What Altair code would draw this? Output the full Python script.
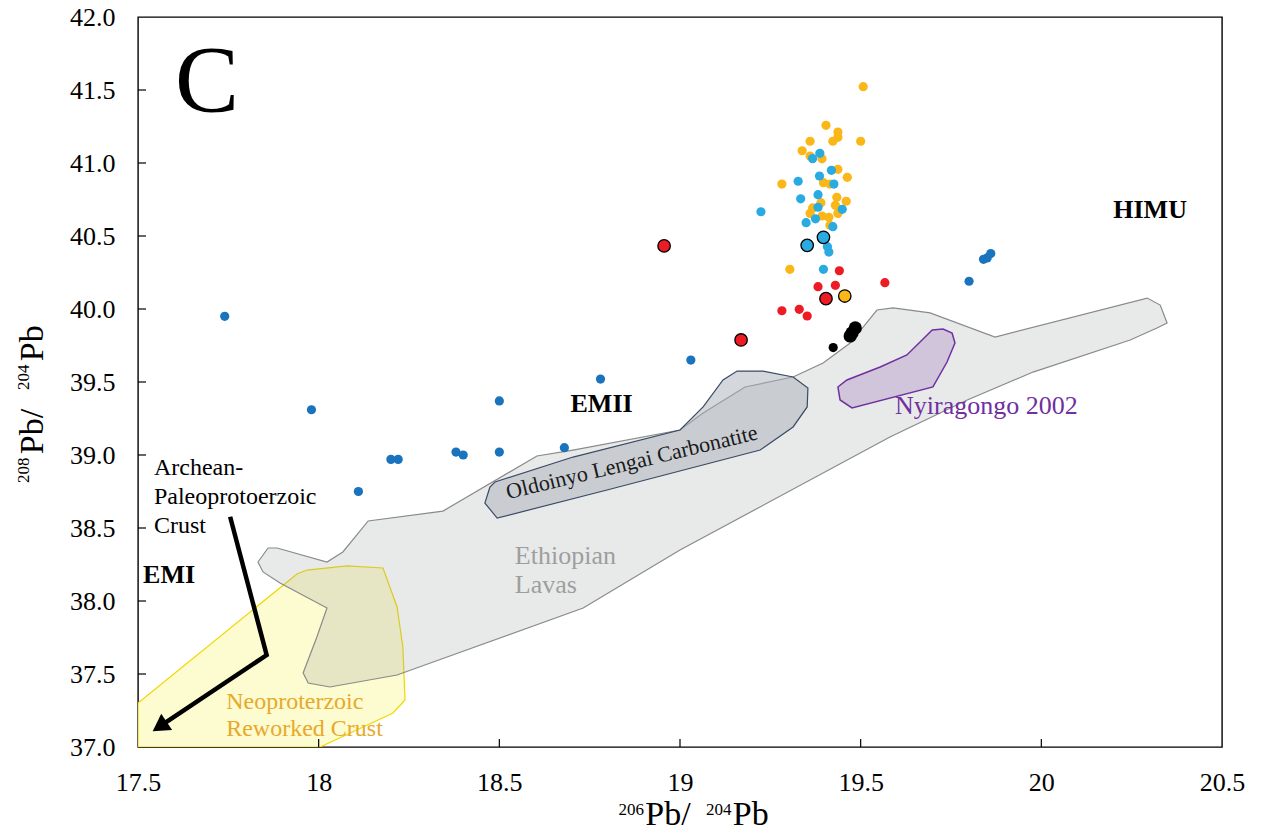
import altair as alt
import pandas as pd

FONT = "Liberation Serif, Times New Roman, serif"
W, H = 1084, 730

# ---------------- data ----------------
dark_blue_x = [17.74, 17.98, 18.11, 18.20, 18.22, 18.38, 18.40, 18.50, 18.50, 18.68, 18.78, 19.03, 19.80, 19.84, 19.85, 19.86]
dark_blue_y = [39.95, 39.31, 38.75, 38.97, 38.97, 39.02, 39.00, 39.02, 39.37, 39.05, 39.52, 39.65, 40.19, 40.34, 40.35, 40.38]

yellow_x = [19.507, 19.404, 19.437, 19.437, 19.423, 19.360, 19.500, 19.338, 19.360, 19.393, 19.437, 19.463, 19.282,
            19.397, 19.415, 19.434, 19.460, 19.390, 19.430, 19.367, 19.360, 19.437, 19.393, 19.412, 19.415, 19.304]
yellow_y = [41.523, 41.258, 41.212, 41.176, 41.149, 41.149, 41.149, 41.084, 41.048, 41.029, 40.957, 40.902, 40.856,
            40.865, 40.856, 40.765, 40.738, 40.728, 40.710, 40.692, 40.655, 40.655, 40.637, 40.628, 40.573, 40.272]

cyan_x = [19.387, 19.367, 19.419, 19.386, 19.327, 19.426, 19.382, 19.334, 19.382, 19.449, 19.224, 19.375, 19.349,
          19.423, 19.408, 19.412, 19.397]
cyan_y = [41.066, 41.030, 40.950, 40.911, 40.875, 40.856, 40.783, 40.755, 40.697, 40.683, 40.666, 40.618, 40.591,
          40.564, 40.427, 40.390, 40.272]

red_x = [19.441, 19.382, 19.430, 19.567, 19.282, 19.330, 19.352]
red_y = [40.262, 40.153, 40.162, 40.180, 39.988, 39.998, 39.952]

black_x = [19.424]
black_y = [39.736]
black_big_x = [19.485, 19.476, 19.471]
black_big_y = [39.870, 39.836, 39.815]

# larger outlined symbols
big_cyan_x = [19.352, 19.397]
big_cyan_y = [40.436, 40.491]
big_red_x = [19.404, 19.169, 18.956]
big_red_y = [40.071, 39.788, 40.432]
big_yellow_x = [19.456]
big_yellow_y = [40.089]

# field outlines
ethiopian_x = [17.832, 17.860, 17.885, 18.023, 18.067, 18.137, 18.344, 18.604, 18.704, 19.000, 19.064, 19.180,
               19.313, 19.396, 19.471, 19.545, 19.590, 19.692, 19.872, 20.293, 20.329, 20.348, 20.320, 20.246,
               19.977, 19.795, 19.581, 19.000, 18.732, 18.217, 18.031, 17.971, 17.957, 17.995, 18.023, 17.893, 17.846]
ethiopian_y = [38.267, 38.363, 38.363, 38.267, 38.336, 38.548, 38.616, 38.993, 39.034, 39.171, 39.288, 39.466,
               39.534, 39.630, 39.767, 39.993, 40.007, 39.973, 39.808, 40.075, 40.027, 39.904, 39.870, 39.788,
               39.568, 39.377, 39.123, 38.349, 37.952, 37.493, 37.411, 37.438, 37.507, 37.753, 37.952, 38.123, 38.199]

neo_x = [17.500, 17.940, 17.968, 18.078, 18.178, 18.217, 18.233, 18.239, 18.206, 18.004, 17.500]
neo_y = [37.301, 38.185, 38.212, 38.240, 38.226, 37.959, 37.685, 37.322, 37.233, 37.000, 37.000]

oldoinyo_x = [18.474, 18.460, 18.494, 18.798, 19.222, 19.313, 19.352, 19.354, 19.313, 19.230, 19.158, 19.119,
              19.064, 19.000, 18.704, 18.488]
oldoinyo_y = [38.781, 38.671, 38.568, 38.760, 39.034, 39.192, 39.329, 39.459, 39.534, 39.575, 39.575, 39.514,
              39.329, 39.171, 38.986, 38.815]

nyira_x = [19.437, 19.443, 19.476, 19.700, 19.739, 19.761, 19.753, 19.728, 19.698, 19.628, 19.554, 19.462]
nyira_y = [39.466, 39.377, 39.322, 39.466, 39.637, 39.767, 39.836, 39.863, 39.856, 39.685, 39.603, 39.514]

# arrow (Archean-Paleoproterozoic crust)
arrow_x = [17.755, 17.856, 17.578]
arrow_y = [38.577, 37.630, 37.171]
arrow_head_x = [17.560]
arrow_head_y = [37.140]

x_tick_values = [17.5, 18, 18.5, 19, 19.5, 20, 20.5]
y_tick_values = [37.0, 37.5, 38.0, 38.5, 39.0, 39.5, 40.0, 40.5, 41.0, 41.5, 42.0]

# axis titles built from pieces (mass numbers as superscripts)
x_title_parts = ["206", "Pb/", "204", "Pb"]
x_title_x = [18.830, 18.904, 19.072, 19.146]
x_title_y = [36.534, 36.466, 36.534, 36.466]
y_title_parts = ["208", "Pb/", "204", "Pb"]
y_title_x = [17.198, 17.237, 17.198, 17.237]
y_title_y = [38.808, 39.005, 39.445, 39.642]

# ---------------- scales / axes ----------------
xs = alt.Scale(domain=[17.5, 20.5], nice=False, zero=False)
ys = alt.Scale(domain=[37.0, 42.0], nice=False, zero=False)

x_axis = alt.Axis(title=None, values=x_tick_values, format="~f", ticks=False, tickSize=0,
                  domain=False, grid=False, labelFont=FONT, labelFontSize=26, labelColor="black",
                  labelPadding=22, labelFlush=False, labelOverlap=False)
y_axis = alt.Axis(title=None, values=y_tick_values, format=".1f", ticks=False, tickSize=0,
                  domain=False, grid=False, labelFont=FONT, labelFontSize=26, labelColor="black",
                  labelPadding=23, labelFlush=False, labelOverlap=False)


def enc_xy(chart):
    return chart.encode(x=alt.X("x:Q", scale=xs, axis=x_axis), y=alt.Y("y:Q", scale=ys, axis=y_axis))


def polygon(xv, yv, fill, fill_opacity, stroke, sw):
    df = pd.DataFrame({"x": xv, "y": yv, "i": list(range(len(xv)))})
    return enc_xy(alt.Chart(df).mark_line(interpolate="linear-closed", fill=fill, fillOpacity=fill_opacity,
                                          stroke=stroke, strokeWidth=sw, clip=True)).encode(order="i:Q")


def points(xv, yv, color, size, outline=False):
    df = pd.DataFrame({"x": xv, "y": yv})
    if outline:
        m = alt.Chart(df).mark_circle(size=size, color=color, opacity=1, stroke="black", strokeWidth=1.3)
    else:
        m = alt.Chart(df).mark_circle(size=size, color=color, opacity=1)
    return enc_xy(m)


def label(texts, xv, yv, size, color, weight="normal", align="left", angle=0):
    df = pd.DataFrame({"t": texts, "x": xv, "y": yv})
    return enc_xy(alt.Chart(df).mark_text(font=FONT, fontSize=size, color=color, fontWeight=weight,
                                          align=align, baseline="alphabetic", angle=angle)).encode(text="t:N")


layers = []
layers.append(polygon(neo_x, neo_y, "#fdfbd0", 1.0, "#f0d800", 1.2))
layers.append(polygon(ethiopian_x, ethiopian_y, "#8c9696", 0.2, "#8a8a8a", 1.2))
layers.append(polygon(oldoinyo_x, oldoinyo_y, "#a9afb9", 0.5, "#3b4a66", 1.2))
layers.append(polygon(nyira_x, nyira_y, "#b9a0cb", 0.5, "#7030a0", 1.5))

# points
layers.append(points(dark_blue_x, dark_blue_y, "#1a73bd", 85))
layers.append(points(yellow_x, yellow_y, "#fbb617", 85))
layers.append(points(cyan_x, cyan_y, "#29abe2", 85))
layers.append(points(red_x, red_y, "#ed1c24", 85))
layers.append(points(black_x, black_y, "#000000", 85))
layers.append(points(black_big_x, black_big_y, "#000000", 175))
layers.append(points(big_cyan_x, big_cyan_y, "#29abe2", 155, outline=True))
layers.append(points(big_red_x, big_red_y, "#ed1c24", 155, outline=True))
layers.append(points(big_yellow_x, big_yellow_y, "#fbb617", 155, outline=True))

# arrow
arrow_df = pd.DataFrame({"x": arrow_x, "y": arrow_y, "i": [0, 1, 2]})
layers.append(enc_xy(alt.Chart(arrow_df).mark_line(color="black", strokeWidth=4.5, strokeJoin="miter"))
              .encode(order="i:Q"))
head_df = pd.DataFrame({"x": arrow_head_x, "y": arrow_head_y})
layers.append(enc_xy(alt.Chart(head_df).mark_point(shape="triangle-up", filled=True, size=380, angle=236,
                                                   color="black", opacity=1)))

# annotations
layers.append(label(["C"], [17.691], [41.349], 96, "black", align="center"))
layers.append(label(["HIMU"], [20.301], [40.621], 26, "black", weight="bold", align="center"))
layers.append(label(["EMII"], [18.783], [39.297], 26, "black", weight="bold", align="center"))
layers.append(label(["EMI"], [17.514], [38.121], 26, "black", weight="bold"))
layers.append(label(["Archean-", "Paleoprotoerzoic", "Crust"], [17.544, 17.544, 17.544],
                    [38.863, 38.664, 38.468], 24, "black"))
layers.append(label(["Ethiopian", "Lavas"], [18.543, 18.543], [38.253, 38.053], 26, "#9e9e9e"))
layers.append(label(["Neoproterzoic", "Reworked Crust"], [17.744, 17.744], [37.258, 37.075], 24, "#e8a92a"))
layers.append(label(["Nyiragongo 2002"], [19.595], [39.281], 26, "#7030a0"))
layers.append(label(["Oldoinyo Lengai Carbonatite"], [18.871], [38.903], 22, "#1a1a1a", align="center",
                    angle=346.5))

# axis titles (superscript mass numbers in a smaller size)
layers.append(label([x_title_parts[0], x_title_parts[2]], [x_title_x[0], x_title_x[2]],
                    [x_title_y[0], x_title_y[2]], 17, "black"))
layers.append(label([x_title_parts[1], x_title_parts[3]], [x_title_x[1], x_title_x[3]],
                    [x_title_y[1], x_title_y[3]], 34, "black"))
layers.append(label([y_title_parts[0], y_title_parts[2]], [y_title_x[0], y_title_x[2]],
                    [y_title_y[0], y_title_y[2]], 17, "black", angle=270))
layers.append(label([y_title_parts[1], y_title_parts[3]], [y_title_x[1], y_title_x[3]],
                    [y_title_y[1], y_title_y[3]], 34, "black", angle=270))

# inward tick marks
xt = pd.DataFrame({"v": [18, 18.5, 19, 19.5, 20]})
yt = pd.DataFrame({"v": [37.5, 38.0, 38.5, 39.0, 39.5, 40.0, 40.5, 41.0, 41.5]})
layers.append(alt.Chart(xt).mark_rule(color="black", strokeWidth=1.2).encode(
    x=alt.X("v:Q", scale=xs, axis=x_axis), y=alt.value(H), y2=alt.value(H - 8)))
layers.append(alt.Chart(yt).mark_rule(color="black", strokeWidth=1.2).encode(
    y=alt.Y("v:Q", scale=ys, axis=y_axis), x=alt.value(0), x2=alt.value(8)))

chart = alt.layer(*layers).properties(
    width=W, height=H,
    padding={"left": 138, "top": 17, "right": 40, "bottom": 90},
    autosize=alt.AutoSizeParams(type="none"),
    background="white",
).configure_view(stroke="black", strokeWidth=1.4)

chart.save("out.html", embed_options={"renderer": "svg", "actions": False})
